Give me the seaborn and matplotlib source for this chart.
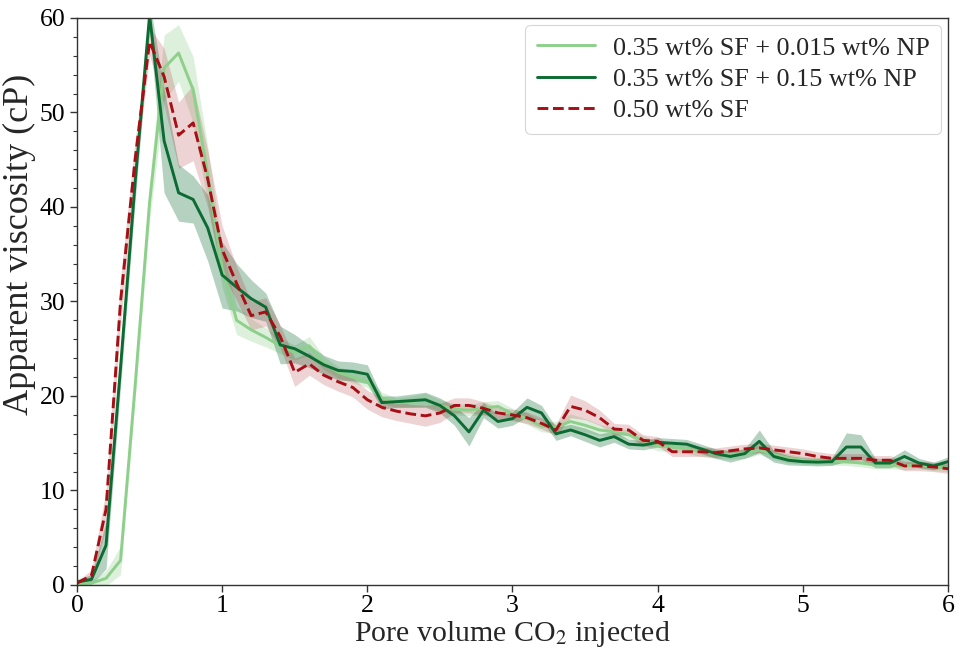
import numpy as np
import pandas as pd
import matplotlib
matplotlib.use("Agg")
import matplotlib.pyplot as plt
from matplotlib.ticker import MultipleLocator
import seaborn as sns

# ---- data -----------------------------------------------------------------
pv = np.round(np.linspace(0, 6, 61), 1)

series_names = ["0.35 wt% SF + 0.015 wt% NP",
                "0.35 wt% SF + 0.15 wt% NP",
                "0.50 wt% SF"]

visc_np015 = [0.1, 0.2, 0.7, 2.6, 21.0, 40.5, 54.7, 56.3, 52.4, 43.5,
              33.5, 28.0, 27.0, 26.2, 25.3, 24.6, 25.3, 23.5, 22.5, 22.0,
              21.5, 19.8, 19.3, 19.4, 19.6, 19.0, 18.6, 18.5, 18.7, 18.9,
              18.1, 17.6, 16.8, 16.7, 17.3, 16.9, 16.4, 16.2, 15.9, 15.3,
              14.7, 14.6, 14.4, 14.1, 13.9, 13.8, 13.9, 14.3, 13.8, 13.4,
              13.2, 13.1, 13.1, 13.05, 12.9, 12.7, 12.7, 12.6, 12.7, 12.5,
              12.4]
err_np015 = [0.2, 0.3, 0.8, 1.5, 1.5, 2.0, 3.5, 3.0, 3.5, 3.0,
             2.0, 1.5, 1.2, 1.0, 0.8, 0.8, 1.0, 0.7, 0.6, 0.6,
             0.6, 0.6, 0.5, 0.6, 0.7, 0.6, 0.6, 0.6, 0.7, 0.6,
             0.6, 0.6, 0.6, 0.6, 0.8, 0.7, 0.6, 0.5, 0.5, 0.5,
             0.5, 0.5, 0.5, 0.5, 0.5, 0.5, 0.5, 0.5, 0.5, 0.5,
             0.4, 0.4, 0.4, 0.4, 0.4, 0.4, 0.4, 0.4, 0.4, 0.4,
             0.4]

visc_np15 = [0.3, 0.6, 4.2, 23.0, 42.5, 60.3, 47.0, 41.5, 40.8, 37.8,
             32.8, 31.5, 30.3, 29.4, 25.4, 25.0, 24.2, 23.3, 22.7, 22.6,
             22.3, 19.3, 19.4, 19.5, 19.6, 19.0, 17.9, 16.2, 18.5, 17.3,
             17.6, 18.8, 18.2, 16.0, 16.4, 15.9, 15.3, 15.7, 14.9, 14.8,
             15.1, 15.0, 14.9, 14.4, 13.9, 13.6, 13.9, 15.2, 13.6, 13.2,
             13.05, 13.0, 13.05, 14.6, 14.6, 12.9, 12.9, 13.6, 12.9, 12.6,
             13.05]
err_np15 = [0.3, 0.5, 2.5, 2.0, 2.0, 1.5, 5.5, 3.0, 2.5, 3.5,
            3.5, 2.5, 2.0, 1.5, 2.0, 1.5, 1.2, 1.0, 1.0, 1.0,
            1.0, 0.7, 0.6, 0.7, 0.8, 0.8, 1.0, 1.5, 0.8, 0.7,
            0.7, 1.0, 0.8, 0.7, 0.6, 0.7, 0.7, 0.6, 0.5, 0.5,
            0.5, 0.5, 0.5, 0.5, 0.5, 0.6, 0.5, 1.2, 0.6, 0.5,
            0.4, 0.4, 0.4, 1.5, 1.3, 0.5, 0.5, 0.7, 0.5, 0.4,
            0.5]

visc_sf050 = [0.2, 1.0, 8.0, 30.0, 45.0, 57.5, 53.8, 47.6, 48.9, 43.0,
              35.5, 31.9, 28.5, 28.9, 26.3, 22.5, 23.4, 22.2, 21.5, 20.9,
              19.6, 18.8, 18.4, 18.1, 17.9, 18.2, 19.0, 19.0, 18.7, 18.2,
              18.0, 17.7, 17.1, 16.4, 18.9, 18.5, 17.7, 16.5, 16.4, 15.3,
              15.2, 14.1, 14.1, 14.1, 14.0, 14.2, 14.4, 14.5, 14.3, 14.1,
              13.9, 13.6, 13.4, 13.4, 13.4, 13.2, 13.2, 12.6, 12.6, 12.5,
              12.3]
err_sf050 = [0.2, 0.6, 2.0, 2.5, 2.0, 1.5, 3.0, 3.5, 4.0, 3.0,
             2.5, 1.8, 1.5, 1.5, 1.2, 1.5, 1.2, 1.0, 1.0, 1.0,
             1.0, 1.0, 1.0, 1.0, 1.1, 1.0, 0.8, 0.8, 0.7, 0.6,
             0.6, 0.6, 0.6, 0.6, 1.2, 1.0, 0.8, 0.6, 0.6, 0.6,
             0.5, 0.5, 0.5, 0.5, 0.5, 0.5, 0.5, 0.5, 0.5, 0.5,
             0.5, 0.5, 0.5, 0.5, 0.5, 0.5, 0.5, 0.5, 0.5, 0.5,
             0.5]

colors = ["#8ed08b", "#0b6b32", "#a50f15"]
band_alpha = [0.3, 0.3, 0.18]
x_ticks = [0, 1, 2, 3, 4, 5, 6]
y_ticks = [0, 10, 20, 30, 40, 50, 60]

# ---- figure ---------------------------------------------------------------
sns.set_theme(style="ticks")
plt.rcParams["font.family"] = ["Liberation Serif", "DejaVu Serif"]
plt.rcParams["mathtext.fontset"] = "stix"

df = pd.concat([
    pd.DataFrame({"pv": pv, "visc": v, "err": e, "series": n})
    for v, e, n in zip([visc_np015, visc_np15, visc_sf050],
                       [err_np015, err_np15, err_sf050], series_names)
], ignore_index=True)

fig = plt.figure(figsize=(9.6, 6.52), dpi=100)
ax = fig.add_axes([0.0802, 0.1028, 0.9073, 0.8696])

for name, c, a in zip(series_names, colors, band_alpha):
    d = df[df["series"] == name]
    ax.fill_between(d["pv"], d["visc"] - d["err"], d["visc"] + d["err"],
                    color=c, alpha=a, linewidth=0)

sns.lineplot(data=df, x="pv", y="visc", hue="series", style="series",
             hue_order=series_names, style_order=series_names,
             palette=dict(zip(series_names, colors)),
             dashes={series_names[0]: "", series_names[1]: "",
                     series_names[2]: (3.7, 1.6)},
             linewidth=2.1, errorbar=None, ax=ax)

ax.set_xlim(0, 6)
ax.set_ylim(0, 60)
ax.set_xticks(x_ticks)
ax.set_yticks(y_ticks)
ax.yaxis.set_minor_locator(MultipleLocator(2))
ax.tick_params(axis="both", which="major", labelsize=18.5, length=5,
               width=1, direction="out", colors="#333333", labelcolor="black")
ax.tick_params(axis="x", which="major", pad=2.5)
ax.tick_params(axis="y", which="minor", length=3, width=0.8,
               colors="#333333")
for s in ax.spines.values():
    s.set_visible(True)
    s.set_color("#333333")
    s.set_linewidth(1.0)

ax.set_xlabel(r"Pore volume CO$_2$ injected", fontsize=21.5)
ax.xaxis.set_label_coords(0.5, -0.098, transform=ax.transAxes)
ax.xaxis.label.set_verticalalignment("baseline")
ax.set_ylabel("Apparent viscosity (cP)", fontsize=26)
ax.yaxis.set_label_coords(-0.047, 0.6, transform=ax.transAxes)
ax.yaxis.label.set_verticalalignment("bottom")

leg = ax.legend(loc="upper right", fontsize=18.8, frameon=True,
                handlelength=2.2, borderpad=0.45, labelspacing=0.3,
                handletextpad=0.7, borderaxespad=0.25, fancybox=True)
leg.get_frame().set_edgecolor("#cccccc")
leg.get_frame().set_linewidth(0.8)

fig.savefig("out.png", dpi=100)
